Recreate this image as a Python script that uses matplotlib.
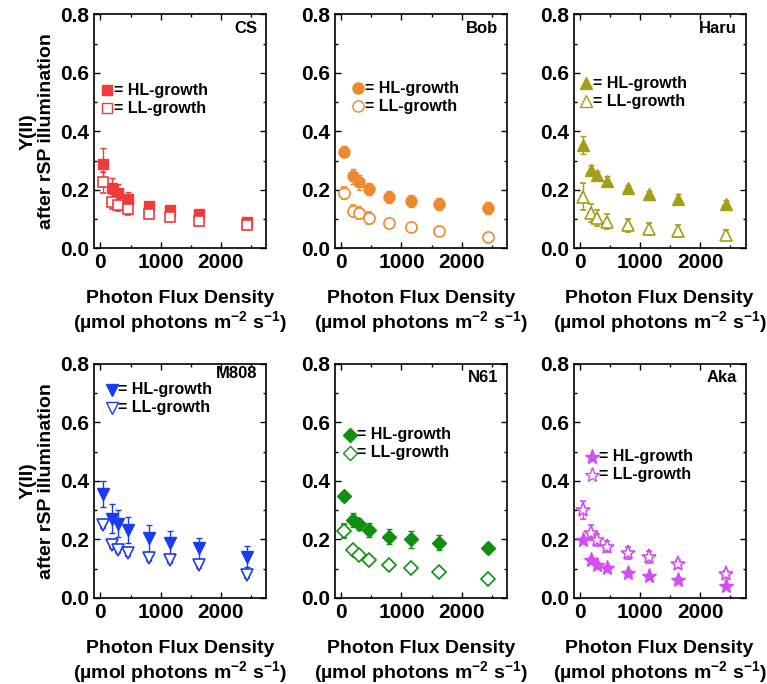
import numpy as np
import matplotlib.pyplot as plt
from matplotlib.ticker import MultipleLocator

plt.rcParams['font.family'] = ['Liberation Sans', 'DejaVu Sans']
plt.rcParams['font.weight'] = 'bold'
plt.rcParams['mathtext.fontset'] = 'custom'
plt.rcParams['mathtext.rm'] = 'Liberation Sans:bold'
plt.rcParams['mathtext.default'] = 'rm'

# photon flux density steps
pfd = [50, 190, 290, 460, 800, 1150, 1630, 2430]

strains = ['CS', 'Bob', 'Haru', 'M808', 'N61', 'Aka']
colors = ['#f23a3a', '#ee8a2e', '#a59d17', '#1a3cf0', '#109010', '#d24ef2']
markers = ['s', 'o', '^', 'v', 'D', '*']

hl_y = [
    [0.289, 0.206, 0.189, 0.168, 0.143, 0.131, 0.118, 0.091],
    [0.331, 0.246, 0.225, 0.202, 0.175, 0.162, 0.152, 0.137],
    [0.354, 0.269, 0.251, 0.231, 0.206, 0.185, 0.169, 0.152],
    [0.356, 0.271, 0.254, 0.232, 0.203, 0.189, 0.169, 0.141],
    [0.347, 0.266, 0.251, 0.232, 0.209, 0.200, 0.189, 0.169],
    [0.198, 0.130, 0.113, 0.102, 0.085, 0.073, 0.060, 0.040],
]
hl_err = [
    [0.055, 0.035, 0.030, 0.025, 0.015, 0.012, 0.010, 0.010],
    [0.020, 0.025, 0.025, 0.020, 0.020, 0.020, 0.020, 0.020],
    [0.030, 0.015, 0.015, 0.015, 0.012, 0.012, 0.015, 0.012],
    [0.045, 0.050, 0.045, 0.045, 0.045, 0.040, 0.035, 0.035],
    [0.015, 0.025, 0.020, 0.025, 0.025, 0.030, 0.025, 0.015],
    [0.010, 0.010, 0.010, 0.010, 0.010, 0.010, 0.010, 0.008],
]
ll_y = [
    [0.225, 0.160, 0.149, 0.135, 0.117, 0.106, 0.095, 0.078],
    [0.189, 0.129, 0.120, 0.103, 0.086, 0.074, 0.059, 0.040],
    [0.177, 0.120, 0.103, 0.091, 0.078, 0.066, 0.059, 0.046],
    [0.249, 0.179, 0.164, 0.153, 0.136, 0.128, 0.111, 0.079],
    [0.229, 0.162, 0.147, 0.130, 0.112, 0.101, 0.087, 0.064],
    [0.300, 0.223, 0.198, 0.175, 0.153, 0.139, 0.116, 0.081],
]
ll_err = [
    [0.035, 0.025, 0.020, 0.020, 0.015, 0.012, 0.010, 0.008],
    [0.020, 0.020, 0.020, 0.020, 0.015, 0.012, 0.010, 0.010],
    [0.045, 0.030, 0.028, 0.025, 0.022, 0.020, 0.020, 0.015],
    [0.010, 0.010, 0.010, 0.010, 0.010, 0.010, 0.010, 0.010],
    [0.025, 0.015, 0.010, 0.010, 0.010, 0.010, 0.010, 0.010],
    [0.030, 0.025, 0.020, 0.020, 0.020, 0.020, 0.015, 0.010],
]

# legend anchor (axes fraction) and panel-name y
leg_pos = [(0.075, 0.675), (0.134, 0.684), (0.07, 0.705),
           (0.10, 0.889), (0.087, 0.697), (0.105, 0.603)]
name_y = [0.94, 0.94, 0.94, 0.96, 0.94, 0.94]
msize = {'s': 7.5, 'o': 8, '^': 9, 'v': 9, 'D': 7.5, '*': 11}

fig = plt.figure(figsize=(7.67, 6.84), dpi=100)
lefts = [0.123, 0.437, 0.748]
bottoms = [0.637, 0.126]
w, h = 0.224, 0.342

for i, name in enumerate(strains):
    ax = fig.add_axes([lefts[i % 3], bottoms[i // 3], w, h])
    c = colors[i]
    m = markers[i]
    ms = msize[m]
    ax.errorbar(pfd, hl_y[i], yerr=hl_err[i], fmt=m, color=c, mfc=c, mec=c,
                ms=ms, capsize=2.5, elinewidth=1, capthick=1, zorder=3)
    ax.errorbar(pfd, ll_y[i], yerr=ll_err[i], fmt=m, color=c, mfc='white', mec=c,
                mew=1.2, ms=ms, capsize=2.5, elinewidth=1, capthick=1, zorder=3)

    ax.set_xlim(-100, 2750)
    ax.set_ylim(0, 0.8)
    ax.xaxis.set_major_locator(MultipleLocator(1000))
    ax.xaxis.set_minor_locator(MultipleLocator(500))
    ax.yaxis.set_minor_locator(MultipleLocator(0.1))
    ax.set_yticks([0, 0.2, 0.4, 0.6, 0.8])
    ax.set_yticklabels(['0.0', '0.2', '0.4', '0.6', '0.8'])
    ax.tick_params(which='both', direction='in', top=True, right=True,
                   labelsize=15, width=1)
    ax.tick_params(which='major', length=4)
    ax.tick_params(which='minor', length=2)
    for lab in ax.get_xticklabels() + ax.get_yticklabels():
        lab.set_fontweight('bold')
    for s in ax.spines.values():
        s.set_linewidth(1.2)

    ax.set_xlabel('Photon Flux Density\n(µmol photons m$^{-2}$ s$^{-1}$)',
                  fontsize=14, fontweight='bold', labelpad=13, linespacing=1.1)
    if i % 3 == 0:
        ax.set_ylabel('Y(II)\nafter rSP illumination', fontsize=14,
                      fontweight='bold', labelpad=4, linespacing=1.1)

    ax.text(0.95, name_y[i], name, transform=ax.transAxes, ha='right',
            va='center', fontsize=12, fontweight='bold')

    lx, ly = leg_pos[i]
    ax.plot([lx], [ly], m, transform=ax.transAxes, color=c, ms=ms,
            clip_on=False)
    ax.plot([lx], [ly - 0.077], m, transform=ax.transAxes, mfc='white',
            mec=c, mew=1, ms=ms, clip_on=False)
    ax.text(lx + 0.04, ly, '= HL-growth', transform=ax.transAxes,
            va='center', fontsize=11.5, fontweight='bold')
    ax.text(lx + 0.04, ly - 0.077, '= LL-growth', transform=ax.transAxes,
            va='center', fontsize=11.5, fontweight='bold')

fig.savefig('out.png', dpi=100)
